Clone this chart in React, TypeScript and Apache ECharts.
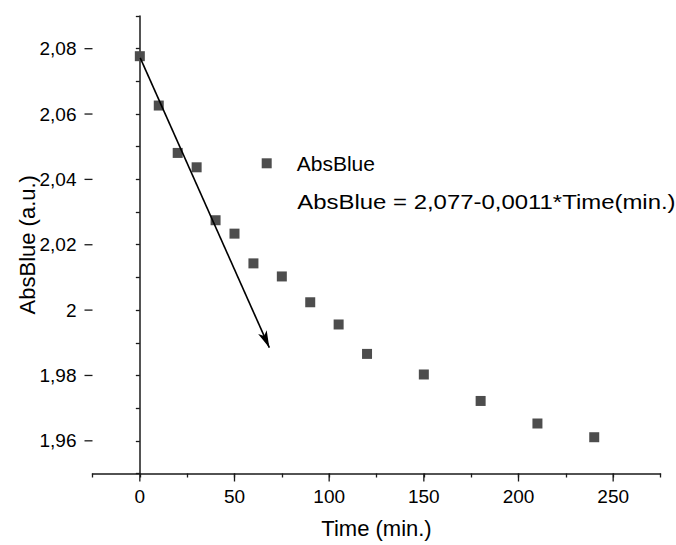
import React, { useEffect, useRef } from "react";
import * as echarts from "echarts";

// ---- data ----
const timeMin = [0, 10, 20, 30, 40, 50, 60, 75, 90, 105, 120, 150, 180, 210, 240];
const absBlue = [
  2.0777, 2.0626, 2.0481, 2.0437, 2.0275, 2.0234, 2.0143, 2.0103, 2.0024, 1.9956,
  1.9866, 1.9803, 1.9722, 1.9653, 1.9611,
];
const seriesName = "AbsBlue";
const equationText = "AbsBlue = 2,077-0,0011*Time(min.)";
const xTitle = "Time (min.)";
const yTitle = "AbsBlue (a.u.)";
const xMajorTicks = [0, 50, 100, 150, 200, 250];
const yMajorTicks = [1.96, 1.98, 2.0, 2.02, 2.04, 2.06, 2.08];
const xRange = [-25, 275];
const yRange = [1.95, 2.09];
const xMinorStep = 25;
const yMinorStep = 0.01;
// arrow annotation (data units): start, end
const arrowStart = [0.2, 2.0772];
const arrowEnd = [68.4, 1.9885];

const FONT = "'Liberation Sans', Arial, sans-serif";
const AXIS_COLOR = "#1a1a1a";
const fmtY = (v: number) => String(+v.toFixed(2)).replace(".", ",");

export default function App() {
  const ref = useRef<HTMLDivElement>(null);
  useEffect(() => {
    document.body.style.margin = "0";
    const chart = echarts.init(ref.current!, null, { renderer: "svg" });
    const axisLine = { show: true, lineStyle: { color: AXIS_COLOR, width: 1.5 } };
    const tickStyle = { color: AXIS_COLOR, width: 1.3 };

    // long (major) ticks drawn through the axes' own scales
    const majorTickSeries = (axis: "x" | "y") => ({
      type: "custom",
      silent: true,
      clip: false,
      z: 10,
      data:
        axis === "x"
          ? xMajorTicks.map((v) => [v, yRange[0]])
          : yMajorTicks.map((v) => [xRange[0], v]),
      renderItem: (_p: any, api: any) => {
        const pt = api.coord([api.value(0), api.value(1)]);
        const shape =
          axis === "x"
            ? { x1: pt[0], y1: pt[1], x2: pt[0], y2: pt[1] + 8 }
            : { x1: pt[0], y1: pt[1], x2: pt[0] - 8, y2: pt[1] };
        return {
          type: "line",
          shape,
          style: { stroke: AXIS_COLOR, lineWidth: 1.3 },
        };
      },
    });

    chart.setOption({
      animation: false,
      backgroundColor: "#fff",
      grid: { left: 92.5, right: 15.5, top: 16, bottom: 71.5, containLabel: false },
      legend: {
        show: true,
        data: [seriesName],
        left: 261.7,
        top: 151.3,
        padding: 0,
        icon: "rect",
        itemWidth: 10,
        itemHeight: 10,
        selectedMode: false,
        itemStyle: { color: "#4d4d4d", opacity: 1 },
        textStyle: {
          fontFamily: FONT,
          fontSize: 21,
          color: "#000",
          lineHeight: 24,
          padding: [0, 0, 0, 20],
        },
      },
      xAxis: {
        type: "value",
        min: xRange[0],
        max: xRange[1],
        interval: xMinorStep,
        name: xTitle,
        nameLocation: "middle",
        nameGap: 44,
        nameMoveOverlap: false,
        nameTextStyle: { fontFamily: FONT, fontSize: 22, color: "#000" },
        axisLine,
        axisTick: { show: true, inside: false, length: 4, lineStyle: tickStyle },
        axisLabel: {
          show: true,
          margin: 13,
          customValues: xMajorTicks,
          fontFamily: FONT,
          fontSize: 19,
          color: "#000",
        },
        splitLine: { show: false },
      },
      yAxis: {
        type: "value",
        min: yRange[0],
        max: yRange[1],
        interval: yMinorStep,
        name: yTitle,
        nameLocation: "middle",
        nameGap: 54,
        nameMoveOverlap: false,
        nameTextStyle: { fontFamily: FONT, fontSize: 22, color: "#000" },
        axisLine,
        axisTick: { show: true, inside: false, length: 4, lineStyle: tickStyle },
        axisLabel: {
          show: true,
          margin: 16,
          customValues: yMajorTicks,
          formatter: fmtY,
          fontFamily: FONT,
          fontSize: 19,
          color: "#000",
        },
        splitLine: { show: false },
      },
      series: [
        {
          name: seriesName,
          type: "scatter",
          symbol: "rect",
          symbolSize: 10,
          itemStyle: { color: "#4d4d4d", opacity: 1 },
          data: timeMin.map((t, i) => [t, absBlue[i]]),
          markLine: {
            silent: true,
            symbol: ["none", "arrow"],
            symbolSize: [7, 17],
            label: { show: false },
            lineStyle: { color: "#000", width: 1.6, type: "solid", opacity: 1 },
            emphasis: { disabled: true },
            data: [[{ coord: arrowStart }, { coord: arrowEnd }]],
          },
        },
        majorTickSeries("x"),
        majorTickSeries("y"),
      ],
      graphic: [
        {
          type: "text",
          x: 297.3,
          y: 202,
          scaleX: 1.14,
          style: {
            text: equationText,
            x: 0,
            y: 0,
            fontFamily: FONT,
            fontSize: 21,
            fill: "#000",
            verticalAlign: "middle",
            align: "left",
          },
        },
      ],
    });
    return () => chart.dispose();
  }, []);
  return <div ref={ref} style={{ width: 676, height: 545 }} />;
}
